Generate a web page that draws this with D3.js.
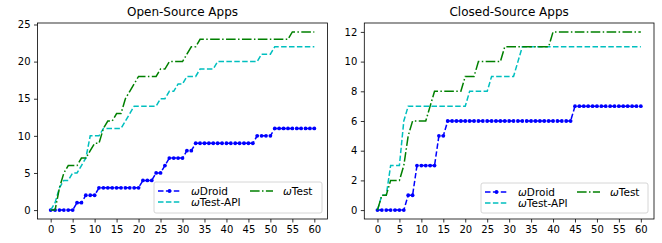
<!DOCTYPE html>
<html>
<head>
<meta charset="utf-8">
<script src="https://cdn.jsdelivr.net/npm/d3@7"></script>
<style>
  body { margin: 0; background: #fff; }
  svg { display: block; font-family: "DejaVu Sans", sans-serif; }
</style>
</head>
<body>
<div id="chart"></div>
<script>
// minutes on the x axis
const minutes = d3.range(0, 61);
const xTicks = [0, 5, 10, 15, 20, 25, 30, 35, 40, 45, 50, 55, 60];

// Open-source apps: cumulative crashes per minute
const openDroid = [0,0,0,0,0,0,1,1,2,2,2,3,3,3,3,3,3,3,3,3,3,4,4,4,5,5,6,7,7,7,7,8,8,
  9,9,9,9,9,9,9,9,9,9,9,9,9,9,10,10,10,10,11,11,11,11,11,11,11,11,11,11];
const openTestApi = [0,1,3,4,4,5,5,6,7,10,10,10,11,11,11,11,11,12,13,14,14,14,14,14,14,
  15,15,16,16,17,17,18,18,18,19,19,19,19,20,20,20,20,20,20,20,20,20,20,21,21,21,
  22,22,22,22,22,22,22,22,22,22];
const openTest = [0,0,3,5,6,6,6,7,7,8,9,9,11,12,12,13,13,15,16,17,18,18,18,18,18,19,19,
  20,20,20,20,21,22,22,23,23,23,23,23,23,23,23,23,23,23,23,23,23,23,23,23,23,23,23,23,
  24,24,24,24,24,24];

// Closed-source apps
const closedDroid = [0,0,0,0,0,0,0,1,1,3,3,3,3,3,5,5,6,6,6,6,6,6,6,6,6,6,6,6,6,6,6,6,6,
  6,6,6,6,6,6,6,6,6,6,6,6,7,7,7,7,7,7,7,7,7,7,7,7,7,7,7,7];
const closedTestApi = [0,1,1,3,3,3,6,7,7,7,7,7,7,7,7,7,7,7,7,7,7,8,8,8,8,8,9,9,9,9,9,9,10,
  11,11,11,11,11,11,11,11,11,11,11,11,11,11,11,11,11,11,11,11,11,11,11,11,11,11,11,11];
const closedTest = [0,1,1,2,2,2,3,5,6,6,6,6,7,8,8,8,8,8,8,8,9,9,9,10,10,10,10,10,10,
  11,11,11,11,11,11,11,11,11,11,11,12,12,12,12,12,12,12,12,12,12,12,12,12,12,12,12,12,
  12,12,12,12];

const openYTicks = [0, 5, 10, 15, 20, 25];
const closedYTicks = [0, 2, 4, 6, 8, 10, 12];

const W = 662, H = 243;
const svg = d3.select('#chart').append('svg')
  .attr('width', W).attr('height', H);

const styles = {
  droid: { color: '#0000ff', dash: '5.5,2.4', dots: true },
  api:   { color: '#00bfbf', dash: '5.5,2.4', dots: false },
  test:  { color: '#008000', dash: '9.6,2.4,1.5,2.4', dots: false }
};

function drawPanel(opts) {
  const { left, right, top, bottom, yMax, yTicks, title, series, legend } = opts;
  const pad = yMax * 0.05;
  const x = d3.scaleLinear().domain([-3, 63]).range([left, right]);
  const y = d3.scaleLinear().domain([-pad, yMax + pad]).range([bottom, top]);
  const g = svg.append('g');

  // Lines (drawn in legend order so green sits on top)
  const line = d3.line().x((d, i) => x(minutes[i])).y(d => y(d));
  series.forEach(s => {
    const st = styles[s.key];
    g.append('path')
      .datum(s.values)
      .attr('d', line)
      .attr('fill', 'none')
      .attr('stroke', st.color)
      .attr('stroke-width', 1.5)
      .attr('stroke-dasharray', st.dash);
    if (st.dots) {
      g.selectAll(null).data(s.values).enter().append('circle')
        .attr('cx', (d, i) => x(minutes[i]))
        .attr('cy', d => y(d))
        .attr('r', 1.9)
        .attr('fill', st.color);
    }
  });

  // Axes
  const xAxis = g.append('g')
    .attr('transform', `translate(0,${bottom})`)
    .call(d3.axisBottom(x).tickValues(xTicks).tickSize(3.5).tickPadding(3.5));
  const yAxis = g.append('g')
    .attr('transform', `translate(${left},0)`)
    .call(d3.axisLeft(y).tickValues(yTicks).tickSize(3.5).tickPadding(3.5));
  [xAxis, yAxis].forEach(a => {
    a.select('.domain').remove();
    a.selectAll('line').attr('stroke', '#000').attr('stroke-width', 0.8);
    a.selectAll('text')
      .attr('fill', '#000')
      .attr('font-size', '10px')
      .attr('font-family', '"DejaVu Sans", sans-serif');
  });

  // Frame
  g.append('rect')
    .attr('x', left).attr('y', top)
    .attr('width', right - left).attr('height', bottom - top)
    .attr('fill', 'none')
    .attr('stroke', '#000').attr('stroke-width', 0.8);

  // Title
  g.append('text')
    .attr('x', (left + right) / 2).attr('y', 16)
    .attr('text-anchor', 'middle')
    .attr('font-size', '12px')
    .text(title);

  // Legend
  const lg = g.append('g');
  lg.append('rect')
    .attr('x', legend.x).attr('y', legend.y)
    .attr('width', legend.w).attr('height', legend.h)
    .attr('rx', 2)
    .attr('fill', '#fff').attr('fill-opacity', 0.8)
    .attr('stroke', '#cccccc').attr('stroke-width', 0.8);

  const entries = [
    { key: 'droid', label: 'Droid', col: 0, row: 0 },
    { key: 'api', label: 'Test-API', col: 0, row: 1 },
    { key: 'test', label: 'Test', col: 1, row: 0 }
  ];
  entries.forEach(e => {
    const st = styles[e.key];
    const hx = legend.x + 4 + e.col * 92;
    const hy = legend.y + 9 + e.row * 11;
    lg.append('line')
      .attr('x1', hx).attr('x2', hx + 23)
      .attr('y1', hy).attr('y2', hy)
      .attr('stroke', st.color).attr('stroke-width', 1.5)
      .attr('stroke-dasharray', st.dash);
    if (st.dots) {
      lg.append('circle')
        .attr('cx', hx + 11.5).attr('cy', hy).attr('r', 1.9)
        .attr('fill', st.color);
    }
    const t = lg.append('text')
      .attr('x', hx + 33).attr('y', hy + 3.6)
      .attr('font-size', '10.5px');
    t.append('tspan').attr('font-style', 'italic').text('ω');
    t.append('tspan').text(e.label);
  });
}

drawPanel({
  left: 37.5, right: 327.5, top: 23, bottom: 219,
  yMax: 24, yTicks: openYTicks, title: 'Open-Source Apps',
  series: [
    { key: 'droid', values: openDroid },
    { key: 'api', values: openTestApi },
    { key: 'test', values: openTest }
  ],
  legend: { x: 154, y: 182, w: 168, h: 31 }
});

drawPanel({
  left: 364.3, right: 654, top: 23, bottom: 219,
  yMax: 12, yTicks: closedYTicks, title: 'Closed-Source Apps',
  series: [
    { key: 'droid', values: closedDroid },
    { key: 'api', values: closedTestApi },
    { key: 'test', values: closedTest }
  ],
  legend: { x: 481, y: 183, w: 167, h: 30 }
});
</script>
</body>
</html>
